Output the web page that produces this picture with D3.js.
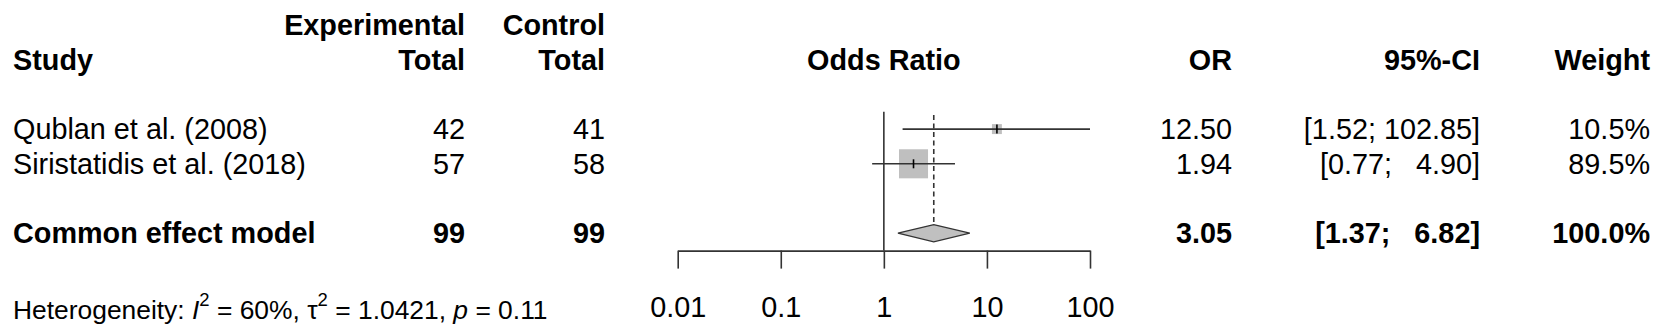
<!DOCTYPE html>
<html>
<head>
<meta charset="utf-8">
<script src="https://cdn.jsdelivr.net/npm/d3@7"></script>
<style>
  html, body { margin: 0; padding: 0; background: #fff; }
  svg { display: block; font-family: "Liberation Sans", Arial, Helvetica, sans-serif; }
  text { white-space: pre; }
</style>
</head>
<body>
<svg id="chart" width="1665" height="327"></svg>
<script>
// Study-level data
const studies = ["Qublan et al. (2008)", "Siristatidis et al. (2018)"];
const expTotal = [42, 57];
const ctrlTotal = [41, 58];
const orValues = [12.50, 1.94];
const ciLower = [1.52, 0.77];
const ciUpper = [102.85, 4.90];
const weights = [10.5, 89.5];
const ciText = ["[1.52; 102.85]", "[0.77;   4.90]"];

// Pooled (common effect) estimate
const pooledLabel = "Common effect model";
const pooledExp = 99;
const pooledCtrl = 99;
const pooledOR = 3.05;
const pooledLower = 1.37;
const pooledUpper = 6.82;
const pooledCiText = "[1.37;   6.82]";
const pooledWeight = "100.0%";

// Axis ticks
const tickValues = [0.01, 0.1, 1, 10, 100];
const tickLabels = ["0.01", "0.1", "1", "10", "100"];

const svg = d3.select("#chart");
const FS = 28.8;
const FS_HET = 26.4;
const lineCol = "#333";

// Row positions (one row = one text line)
const row = d3.scaleLinear().domain([0, 1]).range([25, 59.7]);
const base = r => row(r) + 0.355 * FS;

// Log odds-ratio scale
const x = d3.scaleLog().domain([0.01, 100]).range([677.7, 1090]);
const boxSize = d3.scaleSqrt().domain([0, 100]).range([0, 30.7]);

// Column anchors
const colStudy = 13;
const colExp = 465;
const colCtrl = 605;
const colOR = 1232;
const colCI = 1480;
const colW = 1650;

function txt(xp, yp, s, anchor, bold) {
  return svg.append("text")
    .attr("x", xp).attr("y", yp)
    .attr("text-anchor", anchor)
    .attr("font-size", FS)
    .attr("font-weight", bold ? "bold" : "normal")
    .attr("fill", "#000")
    .text(s);
}

// Header
txt(colExp, base(0), "Experimental", "end", true);
txt(colCtrl, base(0), "Control", "end", true);
txt(colStudy, base(1), "Study", "start", true);
txt(colExp, base(1), "Total", "end", true);
txt(colCtrl, base(1), "Total", "end", true);
txt(x(1), base(1), "Odds Ratio", "middle", true);
txt(colOR, base(1), "OR", "end", true);
txt(colCI, base(1), "95%-CI", "end", true);
txt(colW, base(1), "Weight", "end", true);

// Study rows
const fmt2 = d3.format(".2f");
const fmtW = d => d3.format(".1f")(d) + "%";
studies.forEach((s, i) => {
  const r = 3 + i;
  txt(colStudy, base(r), s, "start", false);
  txt(colExp, base(r), String(expTotal[i]), "end", false);
  txt(colCtrl, base(r), String(ctrlTotal[i]), "end", false);
  txt(colOR, base(r), fmt2(orValues[i]), "end", false);
  txt(colCI, base(r), ciText[i], "end", false);
  txt(colW, base(r), fmtW(weights[i]), "end", false);
});

// Pooled row
const pr = 6;
txt(colStudy, base(pr), pooledLabel, "start", true);
txt(colExp, base(pr), String(pooledExp), "end", true);
txt(colCtrl, base(pr), String(pooledCtrl), "end", true);
txt(colOR, base(pr), fmt2(pooledOR), "end", true);
txt(colCI, base(pr), pooledCiText, "end", true);
txt(colW, base(pr), pooledWeight, "end", true);

// Plot area
const axisY = row(6) + 17.4;
const g = svg.append("g");

// Line of no effect
g.append("line")
  .attr("x1", x(1)).attr("x2", x(1))
  .attr("y1", row(3) - 17.4).attr("y2", axisY)
  .attr("stroke", lineCol).attr("stroke-width", 1.6);

// Pooled estimate reference line
const dHalf = 8.6;
g.append("line")
  .attr("x1", x(pooledOR)).attr("x2", x(pooledOR))
  .attr("y1", row(3) - 14).attr("y2", row(pr) - dHalf)
  .attr("stroke", lineCol).attr("stroke-width", 1.6)
  .attr("stroke-dasharray", "5,3.5");

// Study boxes and CIs
const [xMin, xMax] = x.range();
studies.forEach((s, i) => {
  const cy = row(3 + i);
  const sz = boxSize(weights[i]);
  const cx = x(orValues[i]);
  g.append("rect")
    .attr("x", cx - sz / 2).attr("y", cy - sz / 2)
    .attr("width", sz).attr("height", sz)
    .attr("fill", "#bfbfbf");
  g.append("line")
    .attr("x1", Math.max(x(ciLower[i]), xMin))
    .attr("x2", Math.min(x(ciUpper[i]), xMax))
    .attr("y1", cy).attr("y2", cy)
    .attr("stroke", lineCol).attr("stroke-width", 1.6);
  g.append("line")
    .attr("x1", cx).attr("x2", cx)
    .attr("y1", cy - 4.5).attr("y2", cy + 4.5)
    .attr("stroke", "#000").attr("stroke-width", 1.6);
});

// Pooled diamond
const dy = row(pr);
g.append("path")
  .attr("d", d3.line()([
    [x(pooledLower), dy], [x(pooledOR), dy - dHalf],
    [x(pooledUpper), dy], [x(pooledOR), dy + dHalf]
  ]) + "Z")
  .attr("fill", "#c0c0c0")
  .attr("stroke", lineCol).attr("stroke-width", 1.3);

// Axis
const axis = d3.axisBottom(x)
  .tickValues(tickValues)
  .tickFormat((d, i) => tickLabels[i])
  .tickSizeInner(18).tickSizeOuter(0)
  .tickPadding(28);
const ax = svg.append("g").attr("transform", `translate(0,${axisY})`).call(axis);
ax.select(".domain").attr("stroke", lineCol).attr("stroke-width", 1.6);
ax.selectAll(".tick line").attr("stroke", lineCol).attr("stroke-width", 1.6);
ax.selectAll(".tick text")
  .attr("font-size", FS)
  .attr("font-family", "'Liberation Sans', Arial, sans-serif")
  .attr("fill", "#000");

// Heterogeneity statement
const het = svg.append("text")
  .attr("x", colStudy).attr("y", 319)
  .attr("font-size", FS_HET).attr("fill", "#000");
het.append("tspan").text("Heterogeneity: ");
het.append("tspan").attr("font-style", "italic").text("I");
het.append("tspan").attr("font-size", FS_HET * 0.7).attr("dy", -0.5 * FS_HET).text("2");
het.append("tspan").attr("dy", 0.5 * FS_HET).text(" = 60%, \u03C4");
het.append("tspan").attr("font-size", FS_HET * 0.7).attr("dy", -0.5 * FS_HET).text("2");
het.append("tspan").attr("dy", 0.5 * FS_HET).text(" = 1.0421, ");
het.append("tspan").attr("font-style", "italic").text("p");
het.append("tspan").text(" = 0.11");
</script>
</body>
</html>
